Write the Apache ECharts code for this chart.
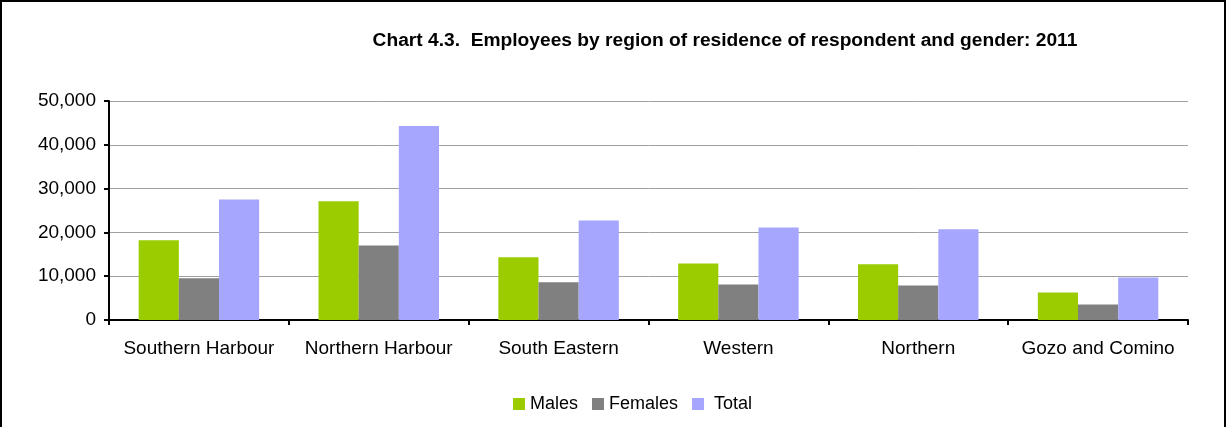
<!DOCTYPE html>
<html><head><meta charset="utf-8">
<script src="https://cdn.jsdelivr.net/npm/echarts@6/dist/echarts.min.js"></script>
<style>
html,body{margin:0;padding:0;background:#fff;}
#frame{position:absolute;left:0;top:0;width:1222px;height:425px;border-left:2px solid #000;border-top:2px solid #000;border-right:2px solid #000;box-sizing:content-box;pointer-events:none;}
#c{position:absolute;left:0;top:0;width:1226px;height:427px;}
</style></head><body>
<div id="c"></div>
<div id="frame"></div>
<script>
const categories = ["Southern Harbour","Northern Harbour","South Eastern","Western","Northern","Gozo and Comino"];
const males   = [18200, 27100, 14300, 12900, 12700, 6300];
const females = [9550, 17000, 8600, 8100, 7900, 3550];
const total   = [27500, 44300, 22700, 21100, 20700, 9700];
const seriesNames = ["Males","Females","Total"];
const colors = ["#9ACC00","#808080","#A6A6FF"];

const chart = echarts.init(document.getElementById('c'), null, {renderer:'canvas'});
const font = "Arial, 'Liberation Sans', sans-serif";
chart.setOption({
  animation:false,
  backgroundColor:'#fff',
  title:{text:"Chart 4.3.  Employees by region of residence of respondent and gender: 2011",
    left:720, top:26, textAlign:'center',
    textStyle:{fontFamily:font,fontSize:19.2,fontWeight:'bold',color:'#000'}},
  legend:{data:seriesNames, bottom:9, left:508, itemWidth:12, itemHeight:12, itemGap:14,
    icon:'rect', formatter:n=>n==='Total'?' '+n:n,
    textStyle:{fontFamily:font,fontSize:18,color:'#000'}},
  grid:{left:109, right:38, top:101, bottom:107, containLabel:false},
  xAxis:{type:'category', data:categories,
    axisLine:{lineStyle:{color:'#000',width:2}},
    axisTick:{show:true, alignWithLabel:false, length:5, lineStyle:{color:'#000',width:2}},
    axisLabel:{fontFamily:font,fontSize:19,color:'#000',margin:19,interval:0}},
  yAxis:{type:'value', min:0, max:50000, interval:10000,
    axisLine:{show:true,lineStyle:{color:'#000',width:2}},
    axisTick:{show:true,length:5,lineStyle:{color:'#000',width:2}},
    splitLine:{lineStyle:{color:'#A0A0A0',width:1}},
    axisLabel:{fontFamily:font,fontSize:19,color:'#000',margin:13,
      formatter:v=>v.toLocaleString('en-US')}},
  series:[males,females,total].map((d,i)=>({
    name:seriesNames[i], type:'bar', data:d, barGap:'0%', barCategoryGap:'33%',
    itemStyle:{color:colors[i]}
  }))
});
</script>
</body></html>
